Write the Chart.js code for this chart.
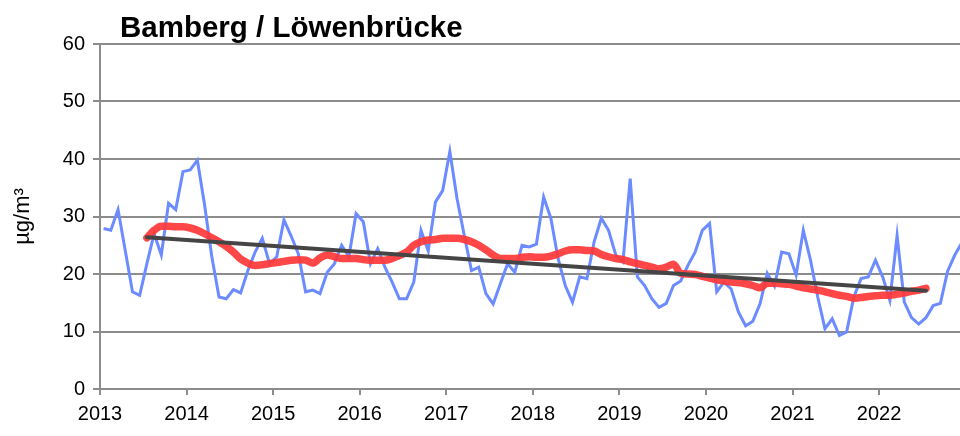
<!DOCTYPE html>
<html lang="de">
<head>
<meta charset="utf-8">
<title>Bamberg / Löwenbrücke</title>
<script src="https://cdn.jsdelivr.net/npm/chart.js@4.4.1/dist/chart.umd.min.js"></script>
<style>
  html, body { margin: 0; padding: 0; background: #fff; }
  #wrap { position: relative; width: 960px; height: 436px; overflow: hidden; }
  #titel {
    position: absolute; left: 120px; top: 10px;
    font: bold 29.5px "Liberation Sans", Arial, sans-serif; color: #000;
    white-space: nowrap;
  }
</style>
</head>
<body>
<div id="wrap">
  <canvas id="chart" width="960" height="436"></canvas>
  <div id="titel">Bamberg / Löwenbrücke</div>
</div>
<script>
// --- DATEN ---
const startJahr = 2013;
const jahre = [2013, 2014, 2015, 2016, 2017, 2018, 2019, 2020, 2021, 2022];

// NO2 Monatsmittel, Jan 2013 .. Dez 2022 (µg/m³)
const monatswerte = [
  27.9, 27.6, 31.2, 24.1, 16.9, 16.3, 21.8, 27.0, 23.3, 32.3, 31.2, 37.8,
  38.1, 39.8, 32.0, 23.0, 16.0, 15.7, 17.3, 16.7, 20.6, 23.8, 26.2, 21.8,
  23.0, 29.4, 26.6, 23.5, 16.9, 17.2, 16.6, 20.3, 21.8, 25.0, 23.0, 30.5,
  29.1, 21.8, 24.4, 21.2, 18.6, 15.7, 15.7, 18.6, 27.6, 24.0, 32.5, 34.5,
  41.3, 33.1, 26.7, 20.6, 21.2, 16.6, 14.8, 18.3, 21.8, 20.3, 25.0, 24.7,
  25.2, 33.4, 29.7, 22.7, 18.0, 15.1, 19.5, 19.2, 25.6, 29.7, 27.6, 23.3,
  22.1, 36.6, 19.5, 18.0, 15.7, 14.2, 14.9, 18.0, 18.8, 21.5, 23.8, 27.6,
  28.8, 16.9, 18.6, 17.4, 13.4, 11.0, 11.8, 14.8, 20.1, 17.9, 23.8, 23.5,
  19.8, 27.6, 22.4, 16.0, 10.5, 12.2,  9.3,  9.9, 16.0, 19.2, 19.5, 22.4,
  19.5, 15.4, 26.7, 15.1, 12.4, 11.3, 12.4, 14.5, 14.9, 20.5, 23.3, 25.5
];

// gleitendes Jahresmittel, beginnt im Juli 2013 (Monat 6)
const mittelStart = 6;
const gleitendesMittel = [
  26.3, 27.6, 28.3, 28.3, 28.2, 28.2, 28.0, 27.6, 27.0, 26.3, 25.6, 24.8,
  23.8, 22.6, 21.9, 21.5, 21.6, 21.8, 22.0, 22.2, 22.4, 22.5, 22.4, 21.9,
  22.8, 23.3, 23.0, 22.7, 22.7, 22.7, 22.5, 22.4, 22.4, 22.4, 22.7, 23.2,
  23.8, 25.0, 25.6, 25.9, 26.0, 26.2, 26.2, 26.2, 26.0, 25.6, 25.0, 24.2,
  23.3, 22.7, 22.7, 22.7, 22.9, 23.0, 22.9, 22.9, 23.1, 23.5, 24.0, 24.2,
  24.2, 24.1, 24.0, 23.4, 23.0, 22.7, 22.5, 22.1, 21.8, 21.5, 21.2, 20.9,
  21.2, 21.7, 20.1, 20.0, 19.9, 19.6, 19.3, 19.0, 18.8, 18.6, 18.5, 18.3,
  18.0, 17.6, 18.4, 18.4, 18.3, 18.2, 17.9, 17.6, 17.4, 17.2, 16.9, 16.6,
  16.3, 16.1, 15.8, 15.9, 16.1, 16.2, 16.3, 16.3, 16.5, 16.7, 17.0, 17.2,
  17.5
];

// linearer Trend: Anfangs- und Endpunkt
const trendMonate = [6, 114];
const trendWerte = [26.4, 17.1];

// Monatsindex -> Position auf der Jahresachse (Monatsmitte)
const aufAchse = (werte, ab) => werte.map((v, i) => ({ x: startJahr + (ab + i + 0.5) / 12, y: v }));

const schrift = '"Liberation Sans", Arial, sans-serif';
const grau = '#8c8c8c';

new Chart(document.getElementById('chart'), {
    type: 'line',
    data: {
        datasets: [
            {
                label: 'Monatsmittel',
                data: aufAchse(monatswerte, 0),
                borderColor: '#6b8bff',
                borderWidth: 3,
                pointRadius: 0,
                tension: 0,
                order: 3
            },
            {
                label: 'gleitendes Jahresmittel',
                data: aufAchse(gleitendesMittel, mittelStart),
                borderColor: 'rgba(255, 55, 55, 0.92)',
                borderWidth: 7.5,
                borderCapStyle: 'round',
                pointRadius: 0,
                cubicInterpolationMode: 'monotone',
                order: 2
            },
            {
                label: 'Trend',
                data: trendMonate.map((m, i) => ({ x: startJahr + (m + 0.5) / 12, y: trendWerte[i] })),
                borderColor: '#454545',
                borderWidth: 4,
                borderCapStyle: 'round',
                pointRadius: 0,
                order: 1
            }
        ]
    },
    options: {
        responsive: false,
        animation: false,
        devicePixelRatio: 1,
        layout: { padding: { top: 44, right: 0, bottom: 0, left: 0 } },
        plugins: { legend: { display: false }, tooltip: { enabled: false } },
        scales: {
            x: {
                type: 'linear',
                min: startJahr,
                max: 2022.935,
                afterFit: s => { s.height = 47; },
                grid: { drawOnChartArea: false, drawTicks: true, tickLength: 6, color: grau, lineWidth: 2 },
                border: { color: grau, width: 2 },
                ticks: {
                    stepSize: 1, includeBounds: false, autoSkip: false, maxRotation: 0, padding: 7,
                    color: '#000', font: { family: schrift, size: 20 },
                    callback: v => jahre.includes(v) ? String(v) : null
                }
            },
            y: {
                min: 0,
                max: 60,
                afterFit: s => { s.width = 100; },
                grid: { color: grau, lineWidth: 2, tickLength: 7 },
                border: { color: grau, width: 2 },
                ticks: { stepSize: 10, padding: 8, color: '#000', font: { family: schrift, size: 20 } },
                title: {
                    display: true, text: 'µg/m³', color: '#000',
                    font: { family: schrift, size: 22 },
                    padding: { top: 10, bottom: 0 }
                }
            }
        }
    }
});
</script>
</body>
</html>
